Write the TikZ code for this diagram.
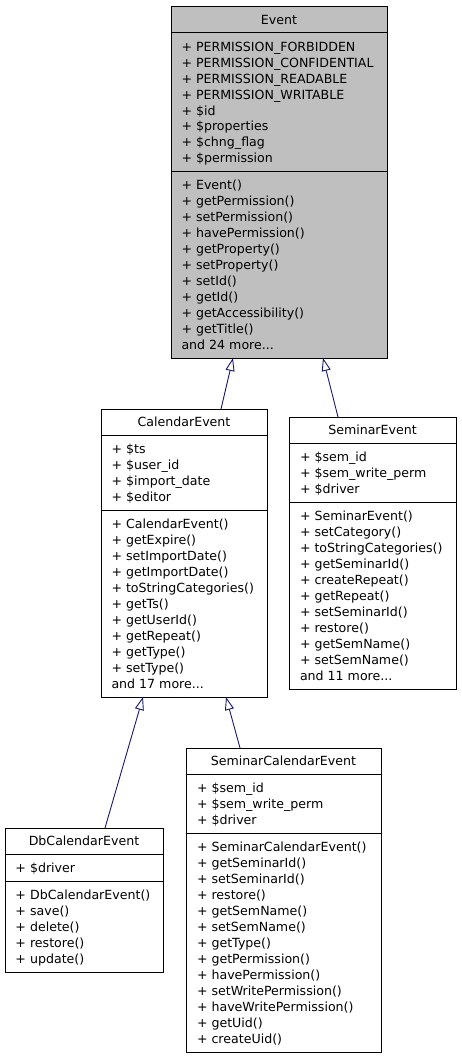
\documentclass[tikz,border=0pt]{standalone}
\usepackage{fontspec}
\setmainfont{DejaVu Sans}
\usetikzlibrary{arrows.meta,calc}
\definecolor{evgray}{HTML}{BFBFBF}
\definecolor{navyline}{HTML}{191970}
\tikzset{
  cls/.style={draw=black, line width=1pt, inner sep=0pt, outer sep=0pt, anchor=north west, fill=white},
  txt/.style={anchor=base west, inner sep=0pt, outer sep=0pt, font=\fontsize{12.6}{16}\selectfont},
  ttl/.style={anchor=base, inner sep=0pt, outer sep=0pt, font=\fontsize{12.6}{16}\selectfont},
  sep/.style={draw=black, line width=1pt},
  inh/.style={draw=navyline, line width=0.9pt, -{Triangle[open,length=13pt,width=9pt]}},
}
\begin{document}
\begin{tikzpicture}[x=1pt,y=-1pt]
\useasboundingbox (0,0) rectangle (461,1059);

% ---------- Event ----------
\node[cls,fill=evgray,minimum width=216pt,minimum height=351pt] (event) at (171,7) {};
\node[ttl] (eventT) at (279,24.5) {Event};
\draw[sep] (171,33) -- (387,33);
\draw[sep] (171,172) -- (387,172);
\foreach \t [count=\i from 0] in {+ PERMISSION\_FORBIDDEN, + PERMISSION\_CONFIDENTIAL, + PERMISSION\_READABLE, + PERMISSION\_WRITABLE, + \$id, + \$properties, + \$chng\_flag, + \$permission}
  \node[txt] (eventA\i) at (181.5,{51.5+15.9*\i}) {\t};
\foreach \t [count=\i from 0] in {+ Event(), + getPermission(), + setPermission(), + havePermission(), + getProperty(), + setProperty(), + setId(), + getId(), + getAccessibility(), + getTitle()}
  \node[txt] (eventM\i) at (181.5,{189.5+16*\i}) {\t};
\node[txt] (eventMore) at (181.5,349.5) {and 24 more...};

% ---------- CalendarEvent ----------
\node[cls,minimum width=166pt,minimum height=288pt] (cal) at (101,409) {};
\node[ttl] (calT) at (184,426.5) {CalendarEvent};
\draw[sep] (101,435) -- (267,435);
\draw[sep] (101,510) -- (267,510);
\foreach \t [count=\i from 0] in {+ \$ts, + \$user\_id, + \$import\_date, + \$editor}
  \node[txt] (calA\i) at (111.5,{453.5+16*\i}) {\t};
\foreach \t [count=\i from 0] in {+ CalendarEvent(), + getExpire(), + setImportDate(), + getImportDate(), + toStringCategories(), + getTs(), + getUserId(), + getRepeat(), + getType(), + setType()}
  \node[txt] (calM\i) at (111.5,{528+16*\i}) {\t};
\node[txt] (calMore) at (111.5,688) {and 17 more...};

% ---------- SeminarEvent ----------
\node[cls,minimum width=167pt,minimum height=272pt] (sem) at (289,417) {};
\node[ttl] (semT) at (372.5,434.5) {SeminarEvent};
\draw[sep] (289,443) -- (456,443);
\draw[sep] (289,502) -- (456,502);
\foreach \t [count=\i from 0] in {+ \$sem\_id, + \$sem\_write\_perm, + \$driver}
  \node[txt] (semA\i) at (300,{461.5+16*\i}) {\t};
\foreach \t [count=\i from 0] in {+ SeminarEvent(), + setCategory(), + toStringCategories(), + getSeminarId(), + createRepeat(), + getRepeat(), + setSeminarId(), + restore(), + getSemName(), + setSemName()}
  \node[txt] (semM\i) at (300,{520+16*\i}) {\t};
\node[txt] (semMore) at (300,680) {and 11 more...};

% ---------- DbCalendarEvent ----------
\node[cls,minimum width=158pt,minimum height=144pt] (db) at (5,828) {};
\node[ttl] (dbT) at (84,845.5) {DbCalendarEvent};
\draw[sep] (5,854) -- (163,854);
\draw[sep] (5,881) -- (163,881);
\node[txt] (dbA0) at (15.5,872.5) {+ \$driver};
\foreach \t [count=\i from 0] in {+ DbCalendarEvent(), + save(), + delete(), + restore(), + update()}
  \node[txt] (dbM\i) at (15.5,{899+16*\i}) {\t};

% ---------- SeminarCalendarEvent ----------
\node[cls,minimum width=195pt,minimum height=304pt] (sce) at (186,748) {};
\node[ttl] (sceT) at (283.5,765.5) {SeminarCalendarEvent};
\draw[sep] (186,774) -- (381,774);
\draw[sep] (186,833) -- (381,833);
\foreach \t [count=\i from 0] in {+ \$sem\_id, + \$sem\_write\_perm, + \$driver}
  \node[txt] (sceA\i) at (197,{792.5+16*\i}) {\t};
\foreach \t [count=\i from 0] in {+ SeminarCalendarEvent(), + getSeminarId(), + setSeminarId(), + restore(), + getSemName(), + setSemName(), + getType(), + getPermission(), + havePermission(), + setWritePermission(), + haveWritePermission(), + getUid(), + createUid()}
  \node[txt] (sceM\i) at (197,{851+16*\i}) {\t};

% ---------- inheritance ----------
\draw[inh] ([xshift=120pt]cal.north west) -- ([xshift=62pt]event.south west);
\draw[inh] ([xshift=49pt]sem.north west) -- ([xshift=152pt]event.south west);
\draw[inh] ([xshift=100pt]db.north west) -- ([xshift=42pt]cal.south west);
\draw[inh] ([xshift=54pt]sce.north west) -- ([xshift=125pt]cal.south west);
\end{tikzpicture}
\end{document}
